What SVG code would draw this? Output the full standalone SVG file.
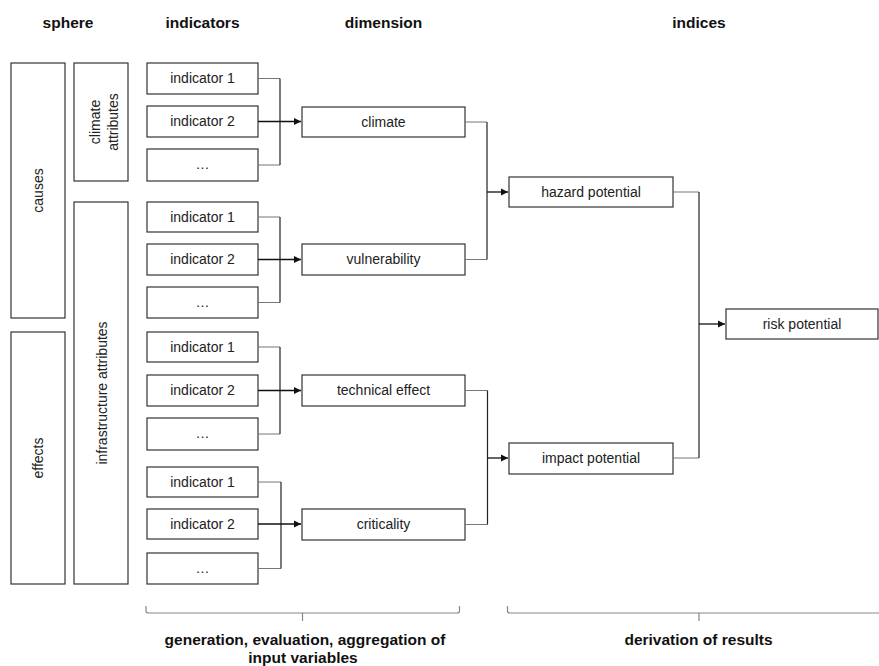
<svg xmlns="http://www.w3.org/2000/svg" width="879" height="666" viewBox="0 0 879 666">
<style>
  .box{fill:#fff;stroke:#333;stroke-width:1.2}
  .t{font-family:"Liberation Sans",Arial,sans-serif;font-size:14px;fill:#222;text-anchor:middle}
  .h{font-family:"Liberation Sans",Arial,sans-serif;font-size:15.5px;font-weight:bold;fill:#111;text-anchor:middle}
  .b{font-size:15.5px}
  .stub{fill:none;stroke:#777;stroke-width:1.2}
  .vert{fill:none;stroke:#222;stroke-width:1.2}
  .arr{fill:none;stroke:#111;stroke-width:1.3;marker-end:url(#ah)}
  .br{fill:none;stroke:#888;stroke-width:1.2}
</style>
<defs>
  <marker id="ah" markerWidth="8" markerHeight="8" refX="7" refY="4" orient="auto" markerUnits="userSpaceOnUse">
    <path d="M0,0.5 L7,4 L0,7.5 Z" fill="#111"/>
  </marker>
</defs>
<rect width="879" height="666" fill="#fff"/>

<g id="titles">
  <text class="h" x="68" y="28">sphere</text>
  <text class="h" x="202.5" y="28">indicators</text>
  <text class="h" x="383.5" y="28">dimension</text>
  <text class="h" x="699" y="28">indices</text>
</g>

<g id="causes"><rect class="box" x="11" y="63" width="54" height="255"/>
  <text class="t" transform="translate(38,190.5) rotate(-90)" y="5">causes</text></g>
<g id="effects"><rect class="box" x="11" y="332" width="54" height="252"/>
  <text class="t" transform="translate(38,458) rotate(-90)" y="5">effects</text></g>
<g id="climate-attributes"><rect class="box" x="74" y="63" width="54" height="118"/>
  <text class="t" transform="translate(101,122) rotate(-90)" y="-1">climate</text>
  <text class="t" transform="translate(101,122) rotate(-90)" y="16.5">attributes</text></g>
<g id="infrastructure-attributes"><rect class="box" x="74" y="202" width="54" height="382"/>
  <text class="t" transform="translate(101,393) rotate(-90)" y="6">infrastructure attributes</text></g>

<g id="g1-ind1"><rect class="box" x="147" y="63" width="111" height="31"/><text class="t" x="202.5" y="83">indicator 1</text></g>
<g id="g1-ind2"><rect class="box" x="147" y="106" width="111" height="31"/><text class="t" x="202.5" y="126">indicator 2</text></g>
<g id="g1-ind3"><rect class="box" x="147" y="149" width="111" height="32"/><text class="t" x="202.5" y="169">…</text></g>

<g id="g2-ind1"><rect class="box" x="147" y="202" width="111" height="30"/><text class="t" x="202.5" y="221.5">indicator 1</text></g>
<g id="g2-ind2"><rect class="box" x="147" y="244" width="111" height="31"/><text class="t" x="202.5" y="264">indicator 2</text></g>
<g id="g2-ind3"><rect class="box" x="147" y="287" width="111" height="31"/><text class="t" x="202.5" y="307">…</text></g>

<g id="g3-ind1"><rect class="box" x="147" y="332" width="111" height="30"/><text class="t" x="202.5" y="351.5">indicator 1</text></g>
<g id="g3-ind2"><rect class="box" x="147" y="375" width="111" height="31"/><text class="t" x="202.5" y="395">indicator 2</text></g>
<g id="g3-ind3"><rect class="box" x="147" y="418" width="111" height="32"/><text class="t" x="202.5" y="438">…</text></g>

<g id="g4-ind1"><rect class="box" x="147" y="467" width="111" height="30"/><text class="t" x="202.5" y="486.5">indicator 1</text></g>
<g id="g4-ind2"><rect class="box" x="147" y="509" width="111" height="30"/><text class="t" x="202.5" y="528.5">indicator 2</text></g>
<g id="g4-ind3"><rect class="box" x="147" y="553" width="111" height="31"/><text class="t" x="202.5" y="572.5">…</text></g>

<g id="climate"><rect class="box" x="302" y="107" width="163" height="30"/><text class="t" x="383.5" y="126.5">climate</text></g>
<g id="vulnerability"><rect class="box" x="302" y="244" width="163" height="31"/><text class="t" x="383.5" y="264">vulnerability</text></g>
<g id="technical-effect"><rect class="box" x="302" y="375" width="163" height="31"/><text class="t" x="383.5" y="395">technical effect</text></g>
<g id="criticality"><rect class="box" x="302" y="509" width="163" height="31"/><text class="t" x="383.5" y="529">criticality</text></g>

<g id="hazard-potential"><rect class="box" x="509" y="177" width="164" height="30"/><text class="t" x="591" y="196.5">hazard potential</text></g>
<g id="impact-potential"><rect class="box" x="509" y="443" width="164" height="31"/><text class="t" x="591" y="463">impact potential</text></g>
<g id="risk-potential"><rect class="box" x="726" y="309" width="152" height="30"/><text class="t" x="802" y="328.5">risk potential</text></g>

<g id="connectors">
  <path class="stub" d="M258,78.5 H280 M258,165 H280"/>
  <path class="vert" d="M280,78.5 V165"/>
  <path class="arr" d="M258,121.5 H301"/>

  <path class="stub" d="M258,217 H280 M258,302.5 H280"/>
  <path class="vert" d="M280,217 V302.5"/>
  <path class="arr" d="M258,259.5 H301"/>

  <path class="stub" d="M258,347 H280 M258,434 H280"/>
  <path class="vert" d="M280,347 V434"/>
  <path class="arr" d="M258,390.5 H301"/>

  <path class="stub" d="M258,482 H281 M258,568.5 H281"/>
  <path class="vert" d="M281,482 V568.5"/>
  <path class="arr" d="M258,524 H301"/>

  <path class="stub" d="M465,122 H487 M465,259.5 H487"/>
  <path class="vert" d="M487,122 V259.5"/>
  <path class="arr" d="M487,192 H508"/>

  <path class="stub" d="M465,390.5 H487.5 M465,524.5 H487.5"/>
  <path class="vert" d="M487.5,390.5 V524.5"/>
  <path class="arr" d="M487.5,458 H508"/>

  <path class="stub" d="M673,192 H699 M673,458 H699"/>
  <path class="vert" d="M699,192 V458"/>
  <path class="arr" d="M699,324 H725"/>
</g>

<g id="bracket-left">
  <path class="br" d="M146,606 V611 Q146,613 148.5,613 H457 Q459.5,613 459.5,611 V606 M302.5,613 V621"/>
  <text class="h b" x="305" y="645">generation, evaluation, aggregation of</text>
  <text class="h b" x="303" y="663">input variables</text>
</g>
<g id="bracket-right">
  <path class="br" d="M507.5,606 V611 Q507.5,613 510,613 H879 M699,613 V621"/>
  <text class="h b" x="698.5" y="645">derivation of results</text>
</g>
</svg>
